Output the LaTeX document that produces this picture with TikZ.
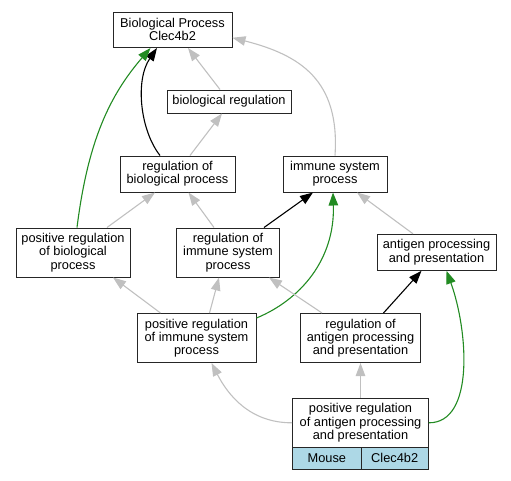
\documentclass[tikz,border=0pt]{standalone}
\usepackage{fontspec}
\setmainfont{Liberation Sans}
\usetikzlibrary{arrows.meta}
\definecolor{ltblue}{HTML}{ADD8E6}
\definecolor{ggreen}{HTML}{228B22}
\definecolor{silv}{HTML}{C0C0C0}

\begin{document}
\begin{tikzpicture}[x=1pt,y=-1pt,%GO graph
 term/.style={draw=black!85,line width=1pt,fill=white,align=center,inner sep=0pt,font=\fontsize{12.8}{13.3}\selectfont},
 cell/.style={term,fill=ltblue},
 isa/.style={draw=silv,line width=1.1pt,-{Triangle[length=13pt,width=9.5pt]}},
 regl/.style={isa,draw=black},
 posr/.style={isa,draw=ggreen}]
\useasboundingbox (0,0) rectangle (511,480);
\node[term,minimum width=119pt,minimum height=35.5pt] (bp) at (172.5,29.75) {Biological Process\\Clec4b2};
\node[term,minimum width=124pt,minimum height=23pt] (bioreg) at (229,101.5) {biological regulation};
\node[term,minimum width=115pt,minimum height=36pt] (regbio) at (177.5,174) {regulation of\\biological process};
\node[term,minimum width=104pt,minimum height=36pt] (isp) at (335,174) {immune system\\process};
\node[term,minimum width=114pt,minimum height=49pt] (posbio) at (73,252.5) {positive regulation\\of biological\\process};
\node[term,minimum width=102.6pt,minimum height=49pt] (regisp) at (228,252.5) {regulation of\\immune system\\process};
\node[term,minimum width=119pt,minimum height=36pt] (antigen) at (436.5,252.3) {antigen processing\\and presentation};
\node[term,minimum width=119pt,minimum height=49pt] (posisp) at (196.5,338) {positive regulation\\of immune system\\process};
\node[term,minimum width=119.5pt,minimum height=49pt] (regant) at (360.5,338) {regulation of\\antigen processing\\and presentation};
\node[term,minimum width=135.6pt,minimum height=49pt] (posant) at (360.5,422.8) {positive regulation\\of antigen processing\\and presentation};
\node[cell,minimum width=68.3pt,minimum height=21.7pt] (mouse) at (326.85,458.2) {Mouse};
\node[cell,minimum width=67.3pt,minimum height=21.7pt] (gene) at (394.65,458.2) {Clec4b2};
%edges to Biological Process
\draw[isa] ([xshift=-9pt]bioreg.north) -- ([xshift=15.5pt]bp.south);
\draw[regl] ([xshift=-17.5pt]regbio.north) .. controls (140,130) and (135,80) .. ([xshift=-15.5pt]bp.south);
\draw[posr] ([xshift=4pt]posbio.north) .. controls (88,140) and (110,95) .. ([xshift=-22pt]bp.south);
\draw[isa] (isp.north) .. controls (340,80) and (300,55) .. ([yshift=-8pt]bp.east);
\draw[isa] ([xshift=12.5pt]regbio.north) -- ([xshift=-7pt]bioreg.south);
\draw[isa] ([xshift=34pt]posbio.north) -- ([xshift=-22.5pt]regbio.south);
\draw[isa] ([xshift=-14pt]regisp.north) -- ([xshift=11pt]regbio.south);
\draw[regl] ([xshift=36pt]regisp.north) -- ([xshift=-22pt]isp.south);
\draw[posr] ([yshift=20pt]posisp.east) .. controls (300,300) and (335,260) .. ([xshift=-2pt]isp.south);
\draw[isa] ([xshift=-23.5pt]antigen.north) -- ([xshift=22pt]isp.south);
\draw[isa] ([xshift=-36pt]posisp.north) -- ([xshift=40pt]posbio.south);
\draw[isa] ([xshift=13pt]posisp.north) -- ([xshift=-9pt]regisp.south);
\draw[isa] ([xshift=-38.5pt]regant.north) -- ([xshift=41pt]regisp.south);
\draw[regl] ([xshift=23pt]regant.north) -- ([xshift=-15pt]antigen.south);
\draw[posr] (posant.east) .. controls (475,423) and (468,330) .. ([xshift=10pt]antigen.south);
\draw[isa] (posant.north) -- (regant.south);
\draw[isa] (posant.west) .. controls (250,423) and (228,395) .. ([xshift=15pt]posisp.south);
\end{tikzpicture}
\end{document}
